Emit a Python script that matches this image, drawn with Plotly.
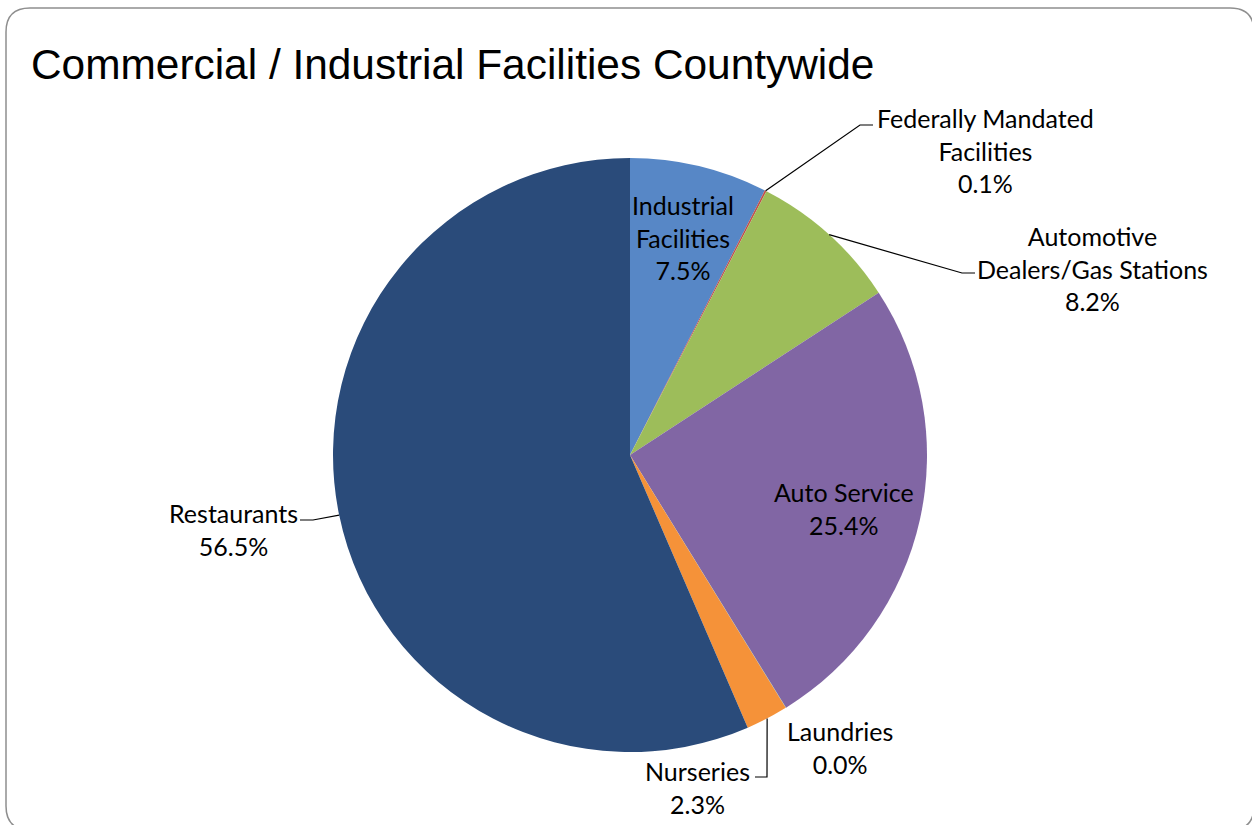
import math
import plotly.graph_objects as go

# ---- data ----
categories = ["Industrial<br>Facilities", "Federally Mandated<br>Facilities",
              "Automotive<br>Dealers/Gas Stations", "Auto Service",
              "Laundries", "Nurseries", "Restaurants"]
values = [7.5, 0.1, 8.2, 25.4, 0.02, 2.3, 56.5]
shown_pct = ["7.5%", "0.1%", "8.2%", "25.4%", "0.0%", "2.3%", "56.5%"]
colors = ["#5787C6", "#C0504D", "#9DBD5A", "#8166A4", "#4BACC6", "#F59239", "#2A4B7A"]

W, H = 1252, 825
CX, CY, R = 630, 455, 297  # pie centre / radius in px


def px(x):
    return x / W


def py(y):
    return 1 - y / H


fig = go.Figure(go.Pie(
    labels=categories, values=values, sort=False, direction="clockwise",
    rotation=0, marker=dict(colors=colors, line=dict(width=0)),
    textinfo="none", hoverinfo="label+percent", showlegend=False,
    domain=dict(x=[px(CX - R), px(CX + R)], y=[py(CY + R), py(CY - R)]),
))

# label positions (layout) : centre of text block
label_pos = [(683, 237), (985, 150), (1092, 268), (844, 508),
             (840, 747), (697, 787), (233, 529)]
# leader lines: (elbow, end) or None
leaders = [None, ((860, 125), (873, 125)), ((962, 273), (975, 273)), None,
           None, ((767, 777), (755, 777)), ((313, 520), (300, 520))]

total = sum(values)
cum = 0.0
annotations = []
shapes = []
for i, v in enumerate(values):
    mid = (cum + v / 2) / total
    cum += v
    ang = mid * 2 * math.pi
    sx = CX + R * math.sin(ang)
    sy = CY - R * math.cos(ang)
    lx, ly = label_pos[i]
    annotations.append(dict(
        x=px(lx), y=py(ly), xref="paper", yref="paper", showarrow=False,
        text=f"{categories[i]}<br>{shown_pct[i]}", align="center",
        xanchor="center", yanchor="middle",
        font=dict(family="Lato", size=25, color="#000000"),
    ))
    if leaders[i]:
        (ex, ey), (fx, fy) = leaders[i]
        shapes.append(dict(
            type="path", xref="paper", yref="paper",
            path=f"M {px(sx)},{py(sy)} L {px(ex)},{py(ey)} L {px(fx)},{py(fy)}",
            line=dict(color="#000000", width=1.2),
        ))

annotations.append(dict(
    x=px(29), y=py(64), xref="paper", yref="paper", showarrow=False,
    text="Commercial / Industrial Facilities Countywide", xanchor="left",
    yanchor="middle", font=dict(family="Liberation Sans", size=42.4, color="#000000"),
))

# rounded frame
x0, y0, x1, y1, rr = 6, 8, 1254, 830, 24
frame = (f"M {px(x0 + rr)},{py(y0)} L {px(x1 - rr)},{py(y0)} "
         f"Q {px(x1)},{py(y0)} {px(x1)},{py(y0 + rr)} L {px(x1)},{py(y1 - rr)} "
         f"Q {px(x1)},{py(y1)} {px(x1 - rr)},{py(y1)} L {px(x0 + rr)},{py(y1)} "
         f"Q {px(x0)},{py(y1)} {px(x0)},{py(y1 - rr)} L {px(x0)},{py(y0 + rr)} "
         f"Q {px(x0)},{py(y0)} {px(x0 + rr)},{py(y0)} Z")
shapes.append(dict(type="path", xref="paper", yref="paper", path=frame,
                   line=dict(color="#8E8E8E", width=1.5), layer="below"))

fig.update_layout(
    width=W, height=H, margin=dict(l=0, r=0, t=0, b=0),
    paper_bgcolor="#FFFFFF", plot_bgcolor="#FFFFFF",
    annotations=annotations, shapes=shapes,
)

fig.write_html("out.html", config={"displayModeBar": False},
               post_script="document.body.style.margin='0';")
